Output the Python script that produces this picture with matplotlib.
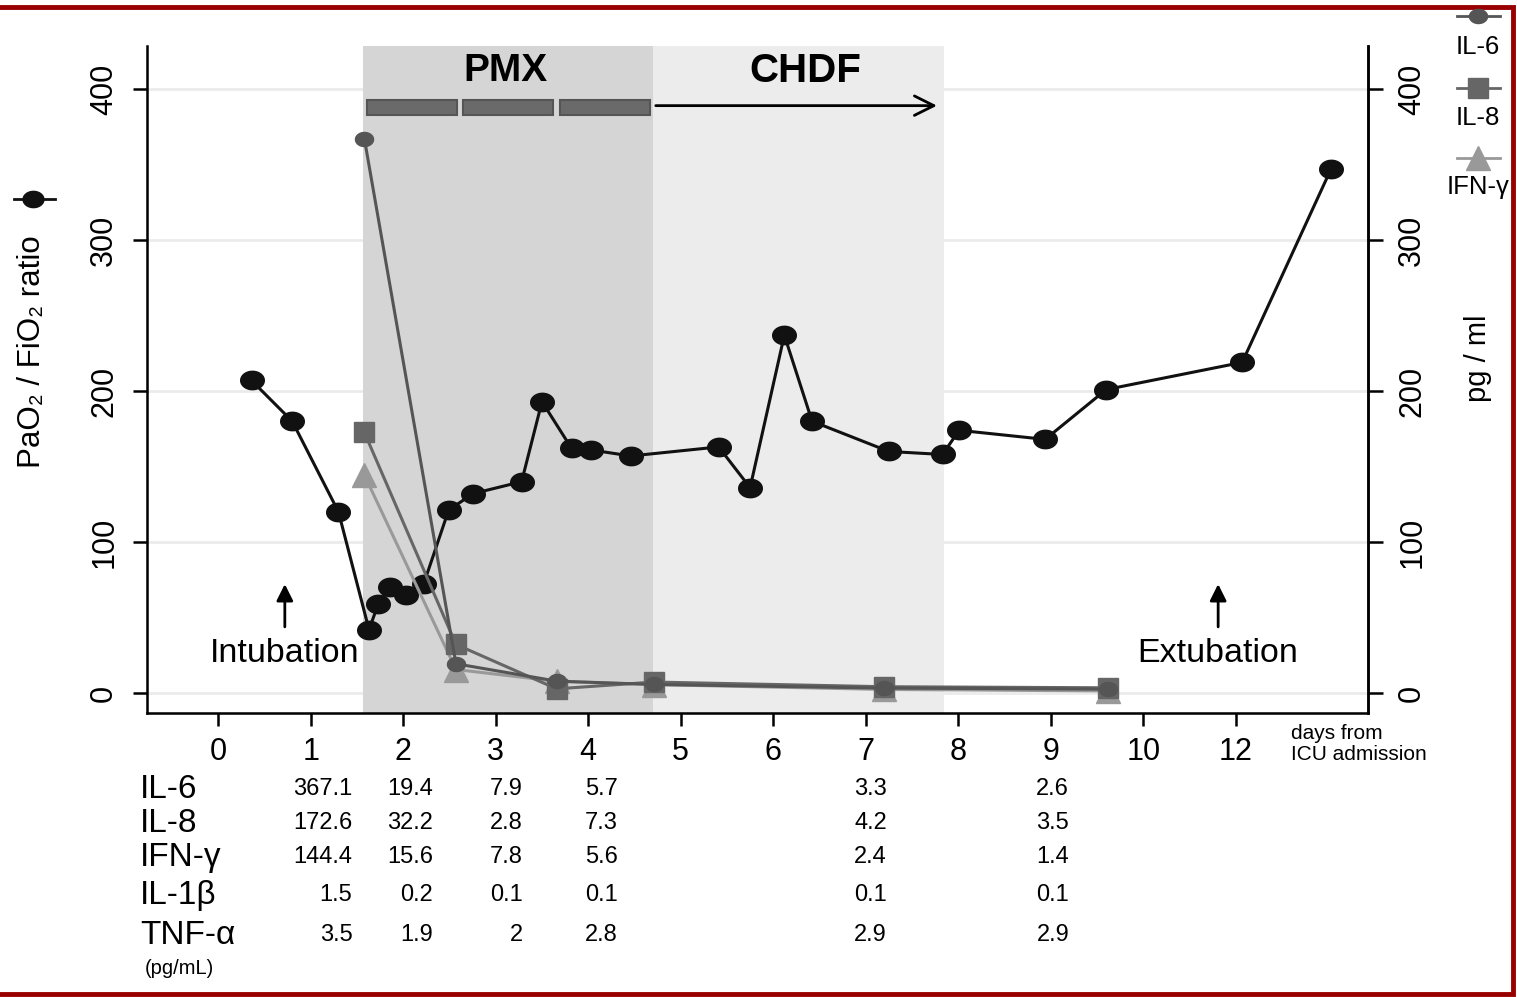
import matplotlib
matplotlib.use('Agg')
import matplotlib.pyplot as plt
from matplotlib.patches import Rectangle
from matplotlib.lines import Line2D
from matplotlib.path import Path
import matplotlib.transforms as mtransforms
import numpy as np

plt.rcParams['font.family'] = ['Liberation Sans', 'DejaVu Sans']

W, H = 1517, 997

# x positions are on the plotting scale (tick "12" sits at position 11)
tick_pos = [0, 1, 2, 3, 4, 5, 6, 7, 8, 9, 10, 11]
tick_labels = ['0', '1', '2', '3', '4', '5', '6', '7', '8', '9', '10', '12']

pf_x = [0.36, 0.80, 1.30, 1.63, 1.73, 1.86, 2.03, 2.22, 2.49, 2.75, 3.28, 3.50, 3.82,
        4.03, 4.46, 5.41, 5.75, 6.12, 6.42, 7.25, 7.83, 8.01, 8.94, 9.60, 11.07, 12.03]
pf_y = [207, 180, 120, 42, 59, 70, 65, 72, 121, 132, 140, 193, 162,
        161, 157, 163, 136, 237, 180, 160, 158, 174, 168, 201, 219, 347]

cyto_x = [1.58, 2.57, 3.66, 4.71, 7.20, 9.62]
il6 = [367.1, 19.4, 7.9, 5.7, 3.3, 2.6]
il8 = [172.6, 32.2, 2.8, 7.3, 4.2, 3.5]
ifng = [144.4, 15.6, 7.8, 5.6, 2.4, 1.4]

table_rows = ['IL-6', 'IL-8', 'IFN-γ', 'IL-1β', 'TNF-α']
table_vals = [
    ['367.1', '19.4', '7.9', '5.7', '3.3', '2.6'],
    ['172.6', '32.2', '2.8', '7.3', '4.2', '3.5'],
    ['144.4', '15.6', '7.8', '5.6', '2.4', '1.4'],
    ['1.5', '0.2', '0.1', '0.1', '0.1', '0.1'],
    ['3.5', '1.9', '2', '2.8', '2.9', '2.9'],
]
table_col_x = [1.45, 2.32, 3.29, 4.32, 7.23, 9.20]
table_row_y = [789, 823, 857, 895, 935]

pmx_span = (1.56, 4.70)
chdf_span = (4.70, 7.85)
pmx_sessions = [(1.61, 2.58), (2.65, 3.62), (3.69, 4.67)]


def fx(px):
    return px / W


def fy(py):
    return 1 - py / H


# slightly flattened dot, like the original markers
t = np.linspace(0, 2 * np.pi, 60)
ellipse = Path(np.column_stack([np.cos(t), 0.78 * np.sin(t)]), closed=True)

fig = plt.figure(figsize=(W / 100, H / 100), dpi=100)
ax = fig.add_axes([fx(147), fy(713), fx(1368) - fx(147), fy(46) - fy(713)])
ax.set_xlim(-0.77, 12.43)
ax.set_ylim(-13.2, 428.5)

for v in [0, 100, 200, 300, 400]:
    ax.axhline(v, color='#ebebeb', lw=2, zorder=0)

ax.axvspan(*pmx_span, color='#d5d5d5', lw=0, zorder=1)
ax.axvspan(*chdf_span, color='#ececec', lw=0, zorder=1)

for a, b in pmx_sessions:
    ax.add_patch(Rectangle((a, 383), b - a, 10, facecolor='#6a6a6a', edgecolor='#555555', lw=1.5, zorder=3))
ax.annotate('', xy=(7.80, 389), xytext=(4.70, 389),
            arrowprops=dict(arrowstyle='->', lw=2, color='black', mutation_scale=35), zorder=3)
ax.text(3.10, 412, 'PMX', ha='center', va='center', fontsize=28, fontweight='bold', zorder=4)
ax.text(6.35, 412, 'CHDF', ha='center', va='center', fontsize=29, fontweight='bold', zorder=4)

ax.plot(pf_x, pf_y, color='#111111', lw=2.2, marker=ellipse, markersize=17, zorder=5, clip_on=False)

ax.plot(cyto_x, ifng, color='#999999', lw=2.2, marker='^', markersize=17, zorder=6)
ax.plot(cyto_x, il8, color='#666666', lw=2.2, marker='s', markersize=15, zorder=6)
ax.plot(cyto_x, il6, color='#555555', lw=2.2, marker=ellipse, markersize=13, zorder=7)

# intubation / extubation
for xpos, label in [(0.72, 'Intubation'), (10.81, 'Extubation')]:
    ax.annotate('', xy=(xpos, 74), xytext=(xpos, 42),
                arrowprops=dict(arrowstyle='-|>', lw=2, color='black', mutation_scale=25), zorder=4)
    ax.text(xpos, 26.5, label, ha='center', va='center', fontsize=24.5, zorder=4)

ax.spines['top'].set_visible(False)
for s in ['left', 'bottom', 'right']:
    ax.spines[s].set_linewidth(1.8)
ax.set_xticks(tick_pos)
ax.set_xticklabels(tick_labels)
ax.tick_params(axis='x', length=9, width=1.8, labelsize=22, pad=8)
ax.set_yticks([0, 100, 200, 300, 400])
ax.tick_params(axis='y', length=10, width=1.8, labelsize=22, pad=10)
for lab in ax.get_yticklabels():
    lab.set_rotation(90)
    lab.set_va('center')

ax2 = ax.twinx()
ax2.set_ylim(ax.get_ylim())
ax2.spines['top'].set_visible(False)
ax2.spines['right'].set_linewidth(1.8)
ax2.set_yticks([0, 100, 200, 300, 400])
ax2.tick_params(axis='y', length=11, width=1.8, labelsize=22, pad=10)
for lab in ax2.get_yticklabels():
    lab.set_rotation(90)
    lab.set_va('center')

# axis titles
fig.text(fx(32), fy(352), 'PaO₂ / FiO₂ ratio', rotation=90, ha='center', va='center', fontsize=22.5)
fig.add_artist(Line2D([fx(14), fx(33), fx(55)], [fy(199)] * 3, transform=fig.transFigure,
                      color='#111111', lw=2, marker=ellipse, markersize=15, markevery=[1]))
fig.text(fx(1478), fy(358), 'pg / ml', rotation=90, ha='center', va='center', fontsize=21)
fig.text(fx(1291), fy(744), 'days from\nICU admission', ha='left', va='center', fontsize=15, linespacing=1.1)

# right-hand legend
legend_items = [('IL-6', ellipse, '#555555', 13, 16, 47),
                ('IL-8', 's', '#666666', 14, 88, 118),
                ('IFN-γ', '^', '#999999', 17, 158, 187)]
for name, mk, col, ms, ym, yt in legend_items:
    fig.add_artist(Line2D([fx(1457), fx(1478), fx(1500)], [fy(ym)] * 3, transform=fig.transFigure,
                          color=col, lw=2, marker=mk, markersize=ms, markevery=[1]))
    fig.text(fx(1478), fy(yt), name, ha='center', va='center', fontsize=18.5)

# cytokine table
trans = mtransforms.blended_transform_factory(ax.transData, fig.transFigure)
for name, vals, ry in zip(table_rows, table_vals, table_row_y):
    fig.text(fx(140), fy(ry), name, ha='left', va='center', fontsize=24)
    for cx, v in zip(table_col_x, vals):
        ax.text(cx, fy(ry), v, transform=trans, ha='right', va='center', fontsize=17, clip_on=False)
fig.text(fx(145), fy(968), '(pg/mL)', ha='left', va='center', fontsize=14.5)

# dark red frame
fig.add_artist(Rectangle((fx(-10), fy(994)), fx(1523), fy(7) - fy(994), transform=fig.transFigure,
                         fill=False, edgecolor='#990000', lw=3.5))

fig.savefig('out.png', dpi=100)
